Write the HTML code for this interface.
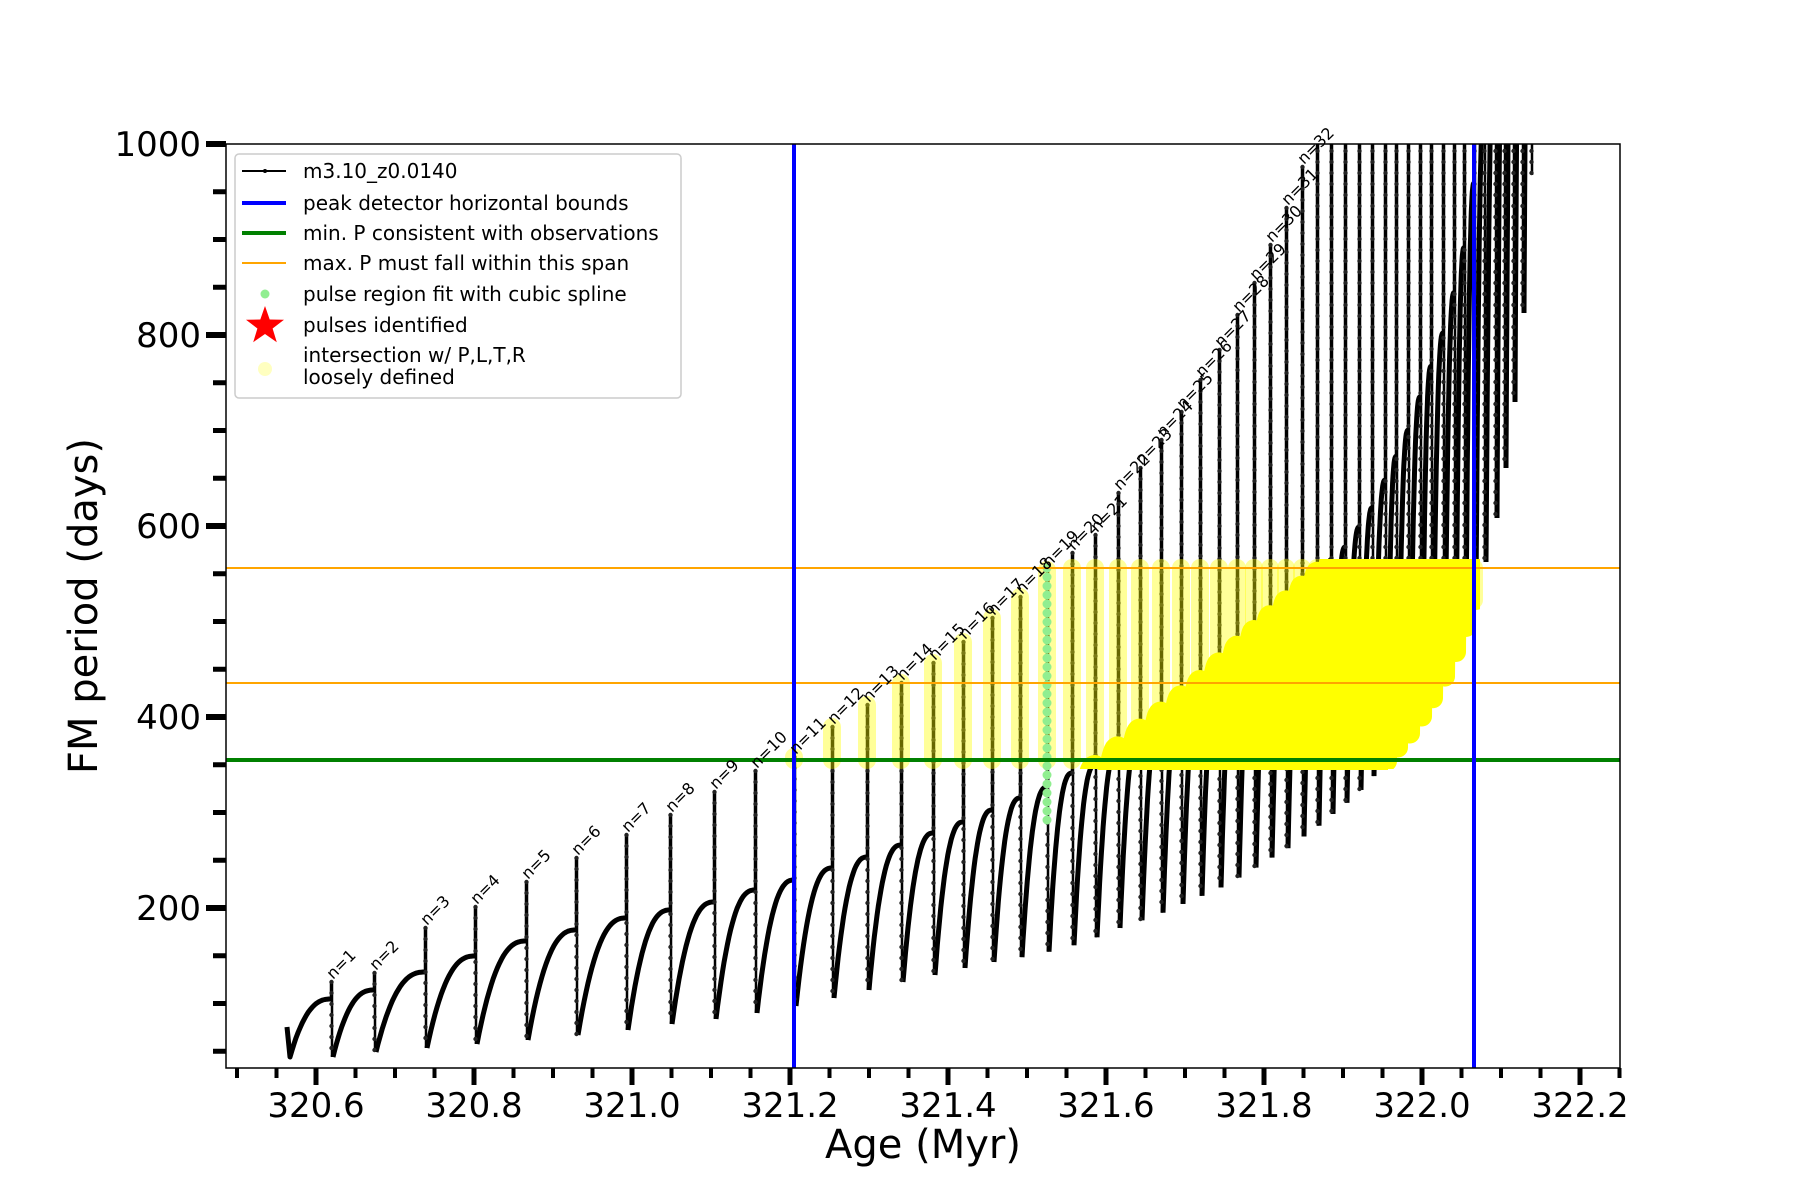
<!DOCTYPE html>
<html><head><meta charset="utf-8"><style>
html,body{margin:0;padding:0;background:#fff;width:1800px;height:1200px;overflow:hidden}
svg{display:block}
text{font-family:"DejaVu Sans","Liberation Sans",sans-serif}
</style></head><body>
<svg id="s" width="1800" height="1200" xmlns="http://www.w3.org/2000/svg">
<defs>
<clipPath id="ax"><rect x="226" y="144" width="1394" height="924"/></clipPath>
<clipPath id="band"><rect x="226" y="559" width="1254" height="210"/></clipPath>
</defs>
<rect width="1800" height="1200" fill="#fff"/>
<g id="data" clip-path="url(#ax)"></g>
<g id="over"></g>
</svg>
<script>
(function(){
const NS="http://www.w3.org/2000/svg";
function el(t,a,p){const e=document.createElementNS(NS,t);for(const k in a)e.setAttribute(k,a[k]);(p||document.getElementById('s')).appendChild(e);return e;}
function interp(tab,x){if(x<=tab[0][0])return tab[0][1];for(let i=1;i<tab.length;i++){if(x<=tab[i][0]){const a=tab[i-1],b=tab[i];return a[1]+(b[1]-a[1])*(x-a[0])/(b[0]-a[0]);}}const a=tab[tab.length-2],b=tab[tab.length-1];return b[1]+(b[1]-a[1])*(x-b[0])/(b[0]-a[0]);}
const X=[331,374,425,475,526,576,626,670,714,755,794,832,867,901,933,963,992,1020,1047,1072,1095,1118,1140,1161,1181,1200,1219,1237,1254,1270,1286,1302,1317,1331,1345,1359,1372,1385,1396,1408,1420,1431,1443,1454,1464,1474,1484,1495,1504,1513,1522,1531];
const B=[[331,1057],[374,1052],[425,1048],[475,1044],[526,1040],[576,1035],[626,1030],[670,1024],[714,1019],[755,1013],[794,1006],[832,998],[867,990],[901,982],[933,975],[963,968],[992,962],[1021,957],[1046,952],[1073,945],[1096,937],[1118,928],[1141,920],[1163,912],[1183,903],[1202,895],[1220,887],[1238,877],[1255,867],[1271,857],[1288,847],[1304,835],[1318,825],[1332,813],[1346,802],[1361,788],[1373,775],[1386,760],[1398,745],[1411,730],[1423,712],[1434,693],[1445,673],[1454,652],[1464,627],[1474,600],[1484,562],[1495,518],[1504,468],[1513,402],[1522,313],[1531,175]];
const T=[[331,999],[374,990],[425,972],[475,956],[526,941],[576,930],[626,918],[670,910],[714,902],[755,890],[794,880],[832,868],[867,857],[901,845],[933,833],[963,822],[992,810],[1020,798],[1047,787],[1072,773],[1095,765],[1200,680],[1321,568],[1343,550],[1371,510],[1407,433],[1443,333],[1461,267],[1471,203],[1479,150],[1490,60],[1540,-300]];
const S=[982,973,928,907,882,858,835,815,792,771,757,727,705,683,663,642,618,597,570,553,535,493,468,440,412,380,350,315,283,245,208,167];
function spTop(i){return i<S.length?S[i]:100;}
const data=document.getElementById('data');
const black=el('g',{},data);
const ysp=el('g',{},data);
const blob=el('g',{},data);
const yl=el('g',{'clip-path':'url(#band)'},data);
const f=s=>1-Math.pow(1-s,2.5);
let arcs=[];
let first=[[287,1027],[290,1057]];
for(let k=1;k<=20;k++){const s=k/20;first.push([290+(331-290)*s,1057+(interp(T,331)-1057)*f(s)]);}
arcs.push(first);
for(let i=0;i<X.length-1;i++){const x0=X[i]+2,y0=interp(B,X[i]),x1=X[i+1],y1=interp(T,x1);let p=[];const n=24;for(let k=0;k<=n;k++){const s=k/n;p.push([x0+(x1-x0)*s,y0+(y1-y0)*f(s)]);}arcs.push(p);}
let d='M1098,770 L1100,'+interp(T,1100).toFixed(1);
for(let x=1104;x<=1321;x+=4){d+=' L'+x+','+interp(T,x).toFixed(1);}
d+=' L1330,559 L1400,559 L1388,770 Z';
el('path',{d:d,fill:'#ffff00',stroke:'none'},blob);
for(const p of arcs){const dd='M'+p.map(q=>q[0].toFixed(1)+','+q[1].toFixed(1)).join('L');el('path',{d:dd,fill:'none',stroke:'#000','stroke-width':5,'stroke-linejoin':'round'},black);
 if(p[p.length-1][0]>1090&&p[0][0]<1480) el('path',{d:dd,fill:'none',stroke:'#ffff00','stroke-width':20,'stroke-linecap':'round','stroke-linejoin':'round'},yl);}
for(let i=0;i<X.length;i++){const x=X[i],ya=interp(T,x),st=spTop(i),bt=interp(B,x);
 el('path',{d:'M'+x+','+ya+'L'+x+','+st+'M'+(x+1)+','+st+'L'+(x+1)+','+bt,stroke:'#000','stroke-width':2.5,fill:'none'},black);
 for(let y=Math.max(st,140);y<bt;y+=11) el('circle',{cx:x+0.5,cy:y,r:2.2,fill:'#222'},black);
 if(i>=10&&x<1480){const y0=Math.max(st,568),y1=Math.min(bt,760);if(y1>=y0) el('line',{x1:x,y1:y0,x2:x,y2:y1,stroke:'rgba(255,255,0,0.4)','stroke-width':18,'stroke-linecap':'round'},ysp);}
}
for(let y=568;y<=822;y+=9) el('circle',{cx:1047,cy:y,r:4.5,fill:'#90ee90'},data);
const ov=document.getElementById('over');
el('line',{x1:226,x2:1620,y1:760,y2:760,stroke:'#008000','stroke-width':4},ov);
el('line',{x1:226,x2:1620,y1:568,y2:568,stroke:'#ffa500','stroke-width':2},ov);
el('line',{x1:226,x2:1620,y1:683,y2:683,stroke:'#ffa500','stroke-width':2},ov);
el('line',{x1:794,x2:794,y1:144,y2:1068,stroke:'#0000ff','stroke-width':4},ov);
el('line',{x1:1474,x2:1474,y1:144,y2:1068,stroke:'#0000ff','stroke-width':4},ov);
for(let n=1;n<=32;n++){const i=n-1;const x=X[i]+2,y=Math.max(spTop(i),150)-2;const t=el('text',{x:x,y:y,'font-size':16,'text-anchor':'start',transform:'rotate(-45 '+x+' '+y+')'},ov);t.textContent='n='+n;}
el('rect',{x:226,y:144,width:1394,height:924,fill:'none',stroke:'#000','stroke-width':1.5},ov);
const vy=v=>144+(1000-v)*0.955;
for(let v=50;v<=1000;v+=50){const y=vy(v);const maj=v%200==0;el('line',{x1:maj?206:213,x2:226,y1:y,y2:y,stroke:'#000','stroke-width':maj?6:5},ov);
 if(maj){const t=el('text',{x:201,y:y+12,'font-size':34,'text-anchor':'end'},ov);t.textContent=v;}}
const vx=a=>1580-(322.2-a)*790;
for(let k=0;k<=35;k++){const a=320.5+k*0.05;const x=vx(a);const maj=(k%4==2);el('line',{x1:x,x2:x,y1:1068,y2:maj?1085:1078,stroke:'#000','stroke-width':maj?5:4},ov);
 if(maj){const t=el('text',{x:x,y:1117,'font-size':34,'text-anchor':'middle'},ov);t.textContent=a.toFixed(1);}}
let tt=el('text',{x:923,y:1158,'font-size':40,'text-anchor':'middle'},ov);tt.textContent='Age (Myr)';
tt=el('text',{x:97,y:606,'font-size':40,'text-anchor':'middle',transform:'rotate(-90 97 606)'},ov);tt.textContent='FM period (days)';
el('rect',{x:235,y:154,width:446,height:244,rx:4,fill:'rgba(255,255,255,0.85)',stroke:'#ccc','stroke-width':1.5},ov);
const L=[['m3.10_z0.0140',171],['peak detector horizontal bounds',203],['min. P consistent with observations',233],['max. P must fall within this span',263],['pulse region fit with cubic spline',294],['pulses identified',325],['intersection w/ P,L,T,R',355],['loosely defined',377]];
for(const r of L){const e=el('text',{x:303,y:r[1]+7,'font-size':20},ov);e.textContent=r[0];}
el('line',{x1:242,x2:286,y1:171,y2:171,stroke:'#000','stroke-width':2},ov);el('circle',{cx:265,cy:171,r:2,fill:'#000'},ov);
el('line',{x1:242,x2:286,y1:203,y2:203,stroke:'#0000ff','stroke-width':4},ov);
el('line',{x1:242,x2:286,y1:233,y2:233,stroke:'#008000','stroke-width':4},ov);
el('line',{x1:242,x2:286,y1:263,y2:263,stroke:'#ffa500','stroke-width':2},ov);
el('circle',{cx:265,cy:294,r:4.5,fill:'#90ee90'},ov);
let pts=[];for(let k=0;k<10;k++){const r=k%2?8:20,a=-Math.PI/2+k*Math.PI/5;pts.push((265+r*Math.cos(a)).toFixed(1)+','+(326+r*Math.sin(a)).toFixed(1));}
el('polygon',{points:pts.join(' '),fill:'#ff0000'},ov);
el('circle',{cx:265,cy:369,r:7,fill:'#ffffc0'},ov);
})();
</script>
</body></html>
